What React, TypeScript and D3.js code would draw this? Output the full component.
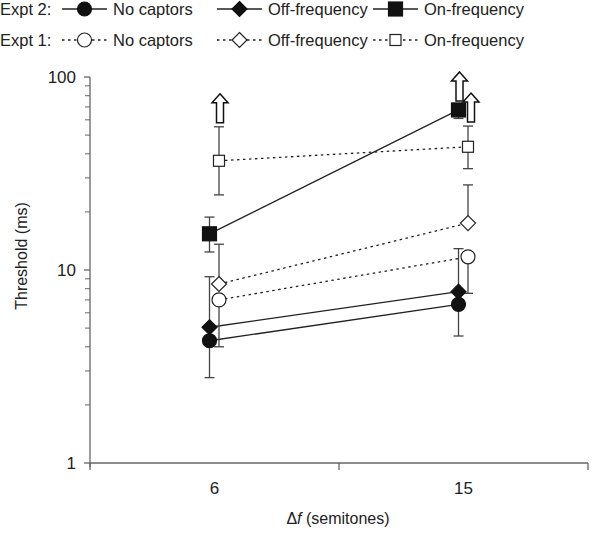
import React from "react";
import * as d3 from "d3";

const categories = ["6", "15"];
// Expt 2 (solid, filled)
const e2NoCaptors = [4.3, 6.64];
const e2NoCaptorsUp = [9.23, 12.9];
const e2NoCaptorsLo = [2.77, 4.55];
const e2OffFreq = [5.05, 7.72];
const e2OnFreq = [15.4, 67.5];
const e2OnFreqUp = [18.8, null];
const e2OnFreqLo = [12.4, 61];
// Expt 1 (dotted, open)
const e1NoCaptors = [7.0, 11.7];
const e1NoCaptorsLo = [4.0, 7.57];
const e1OffFreq = [8.46, 17.5];
const e1OffFreqUp = [13.6, 27.6];
const e1OnFreq = [36.8, 43.5];
const e1OnFreqUp = [55.2, 55.7];
const e1OnFreqLo = [24.5, 33.5];
const yTicks = [1, 10, 100];

type Series = {
  name: string;
  expt: 1 | 2;
  shape: "circle" | "diamond" | "square";
  values: number[];
  up?: (number | null)[];
  lo?: (number | null)[];
  arrows?: boolean[];
};

const series: Series[] = [
  { name: "No captors", expt: 2, shape: "circle", values: e2NoCaptors, up: e2NoCaptorsUp, lo: e2NoCaptorsLo },
  { name: "Off-frequency", expt: 2, shape: "diamond", values: e2OffFreq },
  { name: "On-frequency", expt: 2, shape: "square", values: e2OnFreq, up: e2OnFreqUp, lo: e2OnFreqLo, arrows: [false, true] },
  { name: "No captors", expt: 1, shape: "circle", values: e1NoCaptors, lo: e1NoCaptorsLo },
  { name: "Off-frequency", expt: 1, shape: "diamond", values: e1OffFreq, up: e1OffFreqUp },
  { name: "On-frequency", expt: 1, shape: "square", values: e1OnFreq, up: e1OnFreqUp, lo: e1OnFreqLo, arrows: [true, true] },
];

const INK = "#222222";
const FONT = "'Liberation Sans', Arial, sans-serif";

function Marker({ shape, filled, x, y }: { shape: string; filled: boolean; x: number; y: number }) {
  const fill = filled ? "#111" : "#fff";
  const stroke = filled ? "#111" : INK;
  if (shape === "circle") {
    return <circle cx={x} cy={y} r={7} fill={fill} stroke={stroke} strokeWidth={1.2} />;
  }
  if (shape === "diamond") {
    const s = 7.5;
    return (
      <path d={`M${x},${y - s}L${x + s},${y}L${x},${y + s}L${x - s},${y}Z`} fill={fill} stroke={stroke} strokeWidth={1.2} />
    );
  }
  const h = filled ? 7 : 5.5;
  return <rect x={x - h} y={y - h} width={2 * h} height={2 * h} fill={fill} stroke={stroke} strokeWidth={1.2} />;
}

function UpArrow({ x, yBottom }: { x: number; yBottom: number }) {
  const H = 29, headH = 9, headW = 8, shaftW = 3.5;
  const t = yBottom - H;
  const d = `M${x},${t}L${x + headW},${t + headH}L${x + shaftW},${t + headH}L${x + shaftW},${yBottom}L${x - shaftW},${yBottom}L${x - shaftW},${t + headH}L${x - headW},${t + headH}Z`;
  return <path d={d} fill="#fff" stroke="#111" strokeWidth={1.5} />;
}

export default function App() {
  const W = 600, H = 535;
  const x = d3.scaleBand<string>().domain(categories).range([90, 588]).padding(0);
  const y = d3.scaleLog().domain([1, 100]).range([463, 77]);
  const cx = (i: number) => (x(categories[i]) as number) + x.bandwidth() / 2;
  const off = (expt: number) => (expt === 2 ? -5 : 4.5);

  const minor: number[] = [];
  for (const dec of [1, 10]) for (let k = 2; k <= 9; k++) minor.push(dec * k);

  const line = d3.line<[number, number]>().x((d) => d[0]).y((d) => d[1]);

  const legendRows = [
    { label: "Expt 2:", expt: 2, y: 9 },
    { label: "Expt 1:", expt: 1, y: 40 },
  ];
  const legendItems = [
    { shape: "circle", name: "No captors", x0: 62 },
    { shape: "diamond", name: "Off-frequency", x0: 217 },
    { shape: "square", name: "On-frequency", x0: 373 },
  ];

  return (
    <svg width={W} height={H} style={{ position: "absolute", left: 0, top: 0 }} fontFamily={FONT}>
      <rect width={W} height={H} fill="#fff" />
      {legendRows.map((r) => (
        <g key={r.label}>
          <text x={0} y={r.y + 6} fontSize={16.5} fill={INK}>{r.label}</text>
          {legendItems.map((it) => (
            <g key={it.name}>
              <line x1={it.x0} x2={it.x0 + 45} y1={r.y} y2={r.y} stroke={INK} strokeWidth={1.3}
                strokeDasharray={r.expt === 1 ? "2.5,3.5" : undefined} />
              <Marker shape={it.shape} filled={r.expt === 2} x={it.x0 + 22.5} y={r.y} />
              <text x={it.x0 + 51} y={r.y + 6} fontSize={16.5} fill={INK}>{it.name}</text>
            </g>
          ))}
        </g>
      ))}

      <line x1={90} x2={90} y1={77} y2={467} stroke="#666" strokeWidth={1.3} />
      <line x1={90} x2={588} y1={463} y2={463} stroke="#666" strokeWidth={1.3} />
      {[90, 90 + x.bandwidth(), 588].map((t, i) => (
        <line key={i} x1={t} x2={t} y1={463} y2={470} stroke="#666" strokeWidth={1.3} />
      ))}
      {yTicks.map((t) => (
        <g key={t}>
          <line x1={84} x2={90} y1={y(t)} y2={y(t)} stroke="#666" strokeWidth={1.3} />
          <text x={76} y={y(t) + 6} fontSize={17} textAnchor="end" fill={INK}>{t}</text>
        </g>
      ))}
      {minor.map((t) => (
        <line key={t} x1={85} x2={90} y1={y(t)} y2={y(t)} stroke="#666" strokeWidth={1} />
      ))}
      {categories.map((c, i) => (
        <text key={c} x={cx(i)} y={494} fontSize={17} textAnchor="middle" fill={INK}>{c}</text>
      ))}
      <text x={338} y={524} fontSize={16} textAnchor="middle" fill={INK}>
        <tspan>Δ</tspan><tspan fontStyle="italic">f</tspan><tspan> (semitones)</tspan>
      </text>
      <text transform="translate(27,256) rotate(-90)" fontSize={16} textAnchor="middle" fill={INK}>Threshold (ms)</text>

      {series.map((s, si) => {
        const pts = s.values.map((v, i) => [cx(i) + off(s.expt), y(v)] as [number, number]);
        return (
          <path key={"l" + si} d={line(pts) || ""} fill="none" stroke={INK} strokeWidth={1.3}
            strokeDasharray={s.expt === 1 ? "2.5,3.5" : undefined} />
        );
      })}
      {series.map((s, si) =>
        s.values.map((v, i) => {
          const px = cx(i) + off(s.expt);
          const els: React.ReactNode[] = [];
          const u = s.up ? s.up[i] : null;
          const l = s.lo ? s.lo[i] : null;
          if (u != null) {
            els.push(<line key="u" x1={px} x2={px} y1={y(v)} y2={y(u)} stroke="#444" strokeWidth={1.3} />);
            els.push(<line key="uc" x1={px - 5} x2={px + 5} y1={y(u)} y2={y(u)} stroke="#444" strokeWidth={1.3} />);
          }
          if (l != null) {
            els.push(<line key="d" x1={px} x2={px} y1={y(v)} y2={y(l)} stroke="#444" strokeWidth={1.3} />);
            els.push(<line key="dc" x1={px - 5} x2={px + 5} y1={y(l)} y2={y(l)} stroke="#444" strokeWidth={1.3} />);
          }
          return <g key={"e" + si + "-" + i}>{els}</g>;
        })
      )}
      {[...series].sort((a, b) => a.expt - b.expt).map((s, si) =>
        s.values.map((v, i) => (
          <Marker key={"m" + si + "-" + i} shape={s.shape} filled={s.expt === 2} x={cx(i) + off(s.expt)} y={y(v)} />
        ))
      )}
      {series.map((s, si) =>
        s.values.map((v, i) => {
          if (!s.arrows || !s.arrows[i]) return null;
          const px = cx(i) + off(s.expt) + (s.expt === 1 && i === 1 ? 3 : 1);
          const base = s.up && s.up[i] != null ? y(s.up[i] as number) - 4 : y(v) - 9;
          return <UpArrow key={"a" + si + "-" + i} x={px} yBottom={base} />;
        })
      )}
    </svg>
  );
}
